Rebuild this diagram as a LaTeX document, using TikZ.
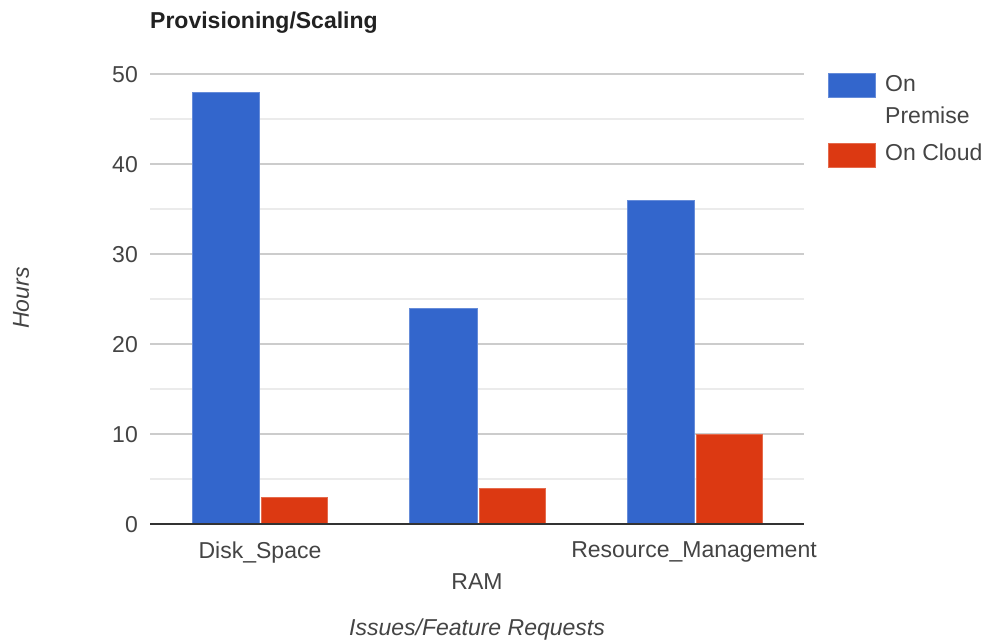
\documentclass[tikz,border=0pt]{standalone}
\usepackage{fontspec}
\setmainfont{Liberation Sans}
\begin{document}
\begin{tikzpicture}[x=1pt,y=-1pt,
  lbl/.style={text=labelgray,font=\fontsize{23}{27}\selectfont,inner sep=0pt},
  ylbl/.style={lbl,anchor=base east},
  majorgrid/.style={draw=gridmajor,line width=1.3pt},
  minorgrid/.style={draw=gridminor,line width=1.3pt},
  premise/.style={fill=barblue,draw=barblue!75!white,line width=0.8pt},
  cloud/.style={fill=barred,draw=barred!75!white,line width=0.8pt}]
\definecolor{barblue}{HTML}{3366CC}
\definecolor{barred}{HTML}{DC3912}
\definecolor{labelgray}{HTML}{444444}
\definecolor{gridmajor}{HTML}{CCCCCC}
\definecolor{gridminor}{HTML}{EBEBEB}
\definecolor{axisgray}{HTML}{333333}
\useasboundingbox[fill=white] (0,0) rectangle (990,642);

% grid: minor lines every 5 h, major lines every 10 h (9 px per hour, zero at y=524)
\foreach \v in {5,15,...,45}
  \draw[minorgrid] (150,524-9*\v) -- (804,524-9*\v);
\foreach \v in {10,20,...,50}
  \draw[majorgrid] (150,524-9*\v) -- (804,524-9*\v);

% y tick labels
\foreach \v in {0,10,...,50}
  \node[ylbl] (y\v) at (138,532-9*\v) {\v};

% bars
\fill[premise] (192,524) rectangle (259,92);
\fill[cloud]   (261,524) rectangle (327,497);
\fill[premise] (409,524) rectangle (477,308);
\fill[cloud]   (479,524) rectangle (545,488);
\fill[premise] (627,524) rectangle (694,200);
\fill[cloud]   (696,524) rectangle (762,434);
\draw[premise] (192,524) rectangle (259,92);
\draw[cloud]   (261,524) rectangle (327,497);
\draw[premise] (409,524) rectangle (477,308);
\draw[cloud]   (479,524) rectangle (545,488);
\draw[premise] (627,524) rectangle (694,200);
\draw[cloud]   (696,524) rectangle (762,434);

% baseline axis
\draw[axisgray,line width=1.6pt] (150,524) -- (804,524);

% category labels
\node[lbl,anchor=base] (c1) at (260,558) {Disk\_Space};
\node[lbl,anchor=base] (c2) at (477,589) {RAM};
\node[lbl,anchor=base] (c3) at (694,557) {Resource\_Management};

% axis titles
\node[lbl,anchor=base,font=\fontsize{23}{27}\selectfont\itshape] (xt) at (477,635) {Issues/Feature Requests};
\node[lbl,rotate=90,font=\fontsize{23}{27}\selectfont\itshape] (yt) at (21,298) {Hours};

% chart title
\node[anchor=base west,inner sep=0pt,text=black!87,font=\fontsize{23}{27}\selectfont\bfseries] (title) at (150,29) {Provisioning/Scaling};

% legend
\fill[premise] (828,73) rectangle (875,97);
\fill[cloud]   (828,143) rectangle (875,167);
\node[lbl,anchor=base west] (l1a) at (885,92) {On};
\node[lbl,anchor=base west] (l1b) at (885,123) {Premise};
\node[lbl,anchor=base west] (l2) at (885,160) {On Cloud};
\end{tikzpicture}
\end{document}
